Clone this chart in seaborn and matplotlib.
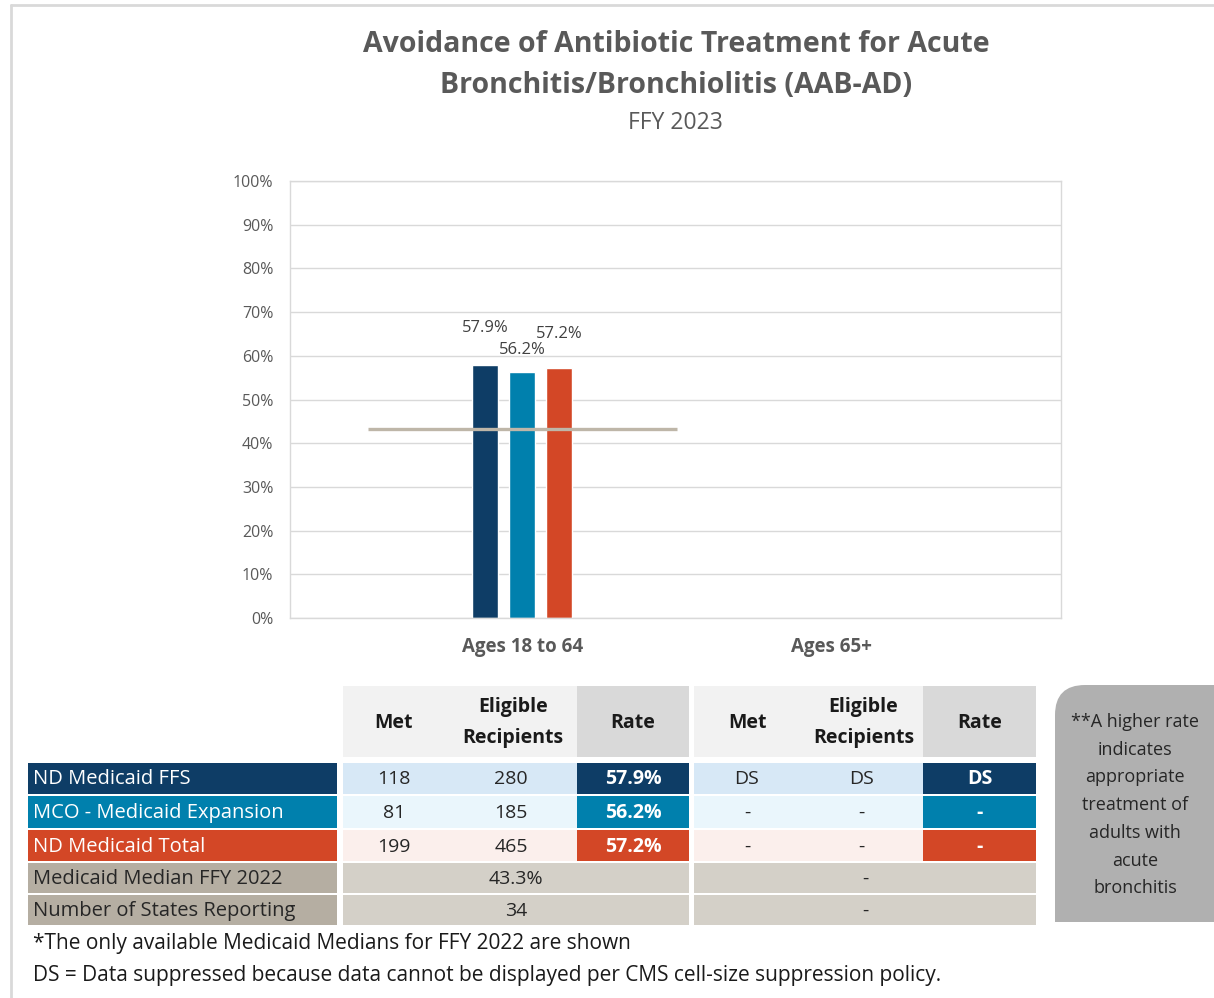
import numpy as np
import pandas as pd
import matplotlib
matplotlib.use("Agg")
import matplotlib.pyplot as plt
from matplotlib.patches import Rectangle, FancyBboxPatch
import seaborn as sns

# chart data
groups = ["Ages 18 to 64", "Ages 65+"]
series = ["ND Medicaid FFS", "MCO - Medicaid Expansion", "ND Medicaid Total"]
rates_18_64 = [57.9, 56.2, 57.2]
rates_65_plus = [np.nan, np.nan, np.nan]
median_2022 = [43.3, np.nan]
series_colors = ["#0E3D66", "#0080AD", "#D34726"]

# table data
met_18_64 = ["118", "81", "199"]
elig_18_64 = ["280", "185", "465"]
rate_18_64_txt = ["57.9%", "56.2%", "57.2%"]
met_65_plus = ["DS", "-", "-"]
elig_65_plus = ["DS", "-", "-"]
rate_65_plus_txt = ["DS", "-", "-"]
median_txt = ["43.3%", "-"]
states_txt = ["34", "-"]
light_colors = ["#D7E8F6", "#EAF6FC", "#FBEFEC"]

title_lines = ["Avoidance of Antibiotic Treatment for Acute", "Bronchitis/Bronchiolitis (AAB-AD)"]
subtitle = "FFY 2023"
side_note = ["**A higher rate", "indicates", "appropriate", "treatment of",
             "adults with", "acute", "bronchitis"]
footnotes = ["*The only available Medicaid Medians for FFY 2022 are shown",
             "DS = Data suppressed because data cannot be displayed per CMS cell-size suppression policy."]

sns.set_style("white")
plt.rcParams['font.family'] = ['Open Sans', 'DejaVu Sans']

W, H = 1214, 998
fig = plt.figure(figsize=(W / 100, H / 100), dpi=100)

# background axes in pixel coords for table and text
bg = fig.add_axes([0, 0, 1, 1])
bg.set_xlim(0, W)
bg.set_ylim(H, 0)
bg.axis('off')

bg.plot([11, 11], [5, H], color="#d9d9d9", lw=2)
bg.plot([11, W], [5, 5], color="#d9d9d9", lw=2)

for line, y in zip(title_lines, [44, 85]):
    bg.text(676, y, line, ha='center', va='center', fontsize=20.5, fontweight='bold',
            color="#595959")
bg.text(675, 123, subtitle, ha='center', va='center', fontsize=16.5, color="#595959")

# bar chart
df = pd.DataFrame({
    "group": [groups[0]] * 3 + [groups[1]] * 3,
    "series": series * 2,
    "rate": rates_18_64 + rates_65_plus,
}).dropna()

ax = fig.add_axes([290 / W, (H - 618) / H, 771 / W, 437 / H])
sns.barplot(data=df, x="group", y="rate", hue="series", order=groups, hue_order=series,
            palette=series_colors, saturation=1, width=0.36, gap=0.3, legend=False, ax=ax)
for cont, pad in zip(ax.containers, [21, 10.5, 19]):
    ax.bar_label(cont, fmt="%.1f%%", padding=pad, fontsize=12, color="#404040")

for i, m in enumerate(median_2022):
    if not np.isnan(m):
        ax.hlines(m, i - 0.5, i + 0.5, color="#BEB6A8", lw=2.4, zorder=5)

ax.set_xlim(-0.752, 1.743)
ax.set_ylim(0, 100)
ax.set_yticks(range(0, 101, 10))
ax.set_yticklabels([f"{v}%" for v in range(0, 101, 10)], fontsize=11.5, color="#595959")
ax.set_xticks(range(len(groups)))
ax.set_xticklabels(groups, fontsize=13.5, fontweight='bold', color="#595959")
ax.tick_params(axis='y', length=0, pad=12)
ax.tick_params(axis='x', length=0, pad=14)
ax.set_xlabel("")
ax.set_ylabel("")
ax.yaxis.grid(True, color="#d9d9d9", lw=1)
ax.set_axisbelow(True)
for s in ax.spines.values():
    s.set_color("#d9d9d9")
    s.set_linewidth(1)


def cell(x0, x1, y0, y1, color, text="", tcolor="#262626", bold=False, ha='center', size=14):
    bg.add_patch(Rectangle((x0, y0), x1 - x0, y1 - y0, facecolor=color, lw=0))
    if text:
        tx = (x0 + x1) / 2 if ha == 'center' else x0 + 5
        bg.text(tx, (y0 + y1) / 2 + 1, text, ha=ha, va='center', fontsize=size,
                color=tcolor, fontweight='bold' if bold else 'normal')


# table layout (pixels)
label_x = (28, 337)
g_cols = [[(343, 445), (445, 577), (577, 689)], [(694, 800), (800, 923), (923, 1036)]]
head_y = (686, 757)
row_y = [(763, 794), (796, 828), (830, 861), (863, 893), (895, 925)]

for cols in g_cols:
    cell(cols[0][0], cols[1][1], *head_y, "#F2F2F2")
    cell(cols[2][0], cols[2][1], *head_y, "#D9D9D9", "Rate", "#1a1a1a", bold=True)
    bg.text(sum(cols[0]) / 2, 723, "Met", ha='center', va='center',
            fontsize=14, fontweight='bold', color="#1a1a1a")
    for word, y in zip(["Eligible", "Recipients"], [707, 738]):
        bg.text(sum(cols[1]) / 2 + 2, y, word, ha='center', va='center',
                fontsize=14, fontweight='bold', color="#1a1a1a")

group_vals = [(met_18_64, elig_18_64, rate_18_64_txt), (met_65_plus, elig_65_plus, rate_65_plus_txt)]
for r in range(3):
    y0, y1 = row_y[r]
    cell(label_x[0], label_x[1], y0, y1, series_colors[r], series[r], "white", ha='left', size=14.5)
    for cols, (mets, eligs, rates) in zip(g_cols, group_vals):
        cell(cols[0][0], cols[1][1], y0, y1, light_colors[r])
        bg.text(sum(cols[0]) / 2, (y0 + y1) / 2 + 1, mets[r], ha='center', va='center',
                fontsize=14, color="#262626")
        bg.text(sum(cols[1]) / 2, (y0 + y1) / 2 + 1, eligs[r], ha='center', va='center',
                fontsize=14, color="#262626")
        cell(cols[2][0], cols[2][1], y0, y1, series_colors[r], rates[r], "white", bold=True)

extra_rows = [("Medicaid Median FFY 2022", median_txt), ("Number of States Reporting", states_txt)]
for (lab, vals), (y0, y1) in zip(extra_rows, row_y[3:]):
    cell(label_x[0], label_x[1], y0, y1, "#B5AEA2", lab, "#262626", ha='left', size=14.5)
    for cols, v in zip(g_cols, vals):
        cell(cols[0][0], cols[2][1], y0, y1, "#D4D0C8", v, "#262626")

# side note box
bg.add_patch(FancyBboxPatch((1055, 685), 200, 237, boxstyle="round,pad=0,rounding_size=30",
                            facecolor="#B0B0B0", lw=0))
bg.add_patch(Rectangle((1055, 880), 45, 42, facecolor="#B0B0B0", lw=0))
for k, line in enumerate(side_note):
    bg.text(1135, 722 + k * 27.7, line, ha='center', va='center', fontsize=13, color="#262626")

bg.text(33, 943, footnotes[0], ha='left', va='center', fontsize=15, color="#1a1a1a")
bg.text(33, 976, footnotes[1], ha='left', va='center', fontsize=15, color="#1a1a1a")

fig.savefig("out.png", dpi=100)
